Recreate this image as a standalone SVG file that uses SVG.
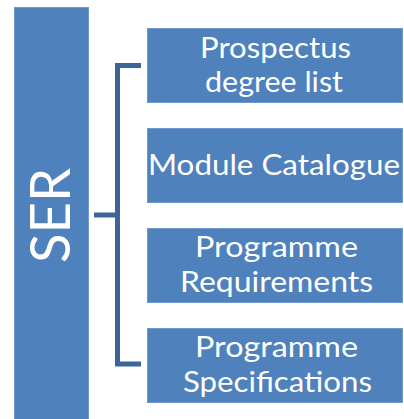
<svg xmlns="http://www.w3.org/2000/svg" width="404" height="419" viewBox="0 0 404 419">
<style>
.box{fill:#4F81BD;stroke:#7098CC;stroke-width:1}
.lbl{fill:#FFFFFF;font-family:Lato,"Open Sans","Liberation Sans",sans-serif;font-size:29px;text-anchor:middle}
.conn{fill:none;stroke:#3D6597;stroke-width:5}
</style>
<rect width="404" height="419" fill="#FFFFFF"/>
<g id="ser">
<rect class="box" x="14.5" y="7.5" width="74" height="412"/>
<text class="lbl" transform="translate(70,215.5) rotate(-90)" x="0" y="0" style="font-size:56px" textLength="95" lengthAdjust="spacingAndGlyphs">SER</text>
</g>
<g id="connectors">
<path class="conn" d="M141,65.5 H117.5 V364 H141"/>
<path class="conn" d="M94,215 H117.5"/>
</g>
<g id="prospectus">
<rect class="box" x="147.5" y="28.5" width="255" height="74"/>
<text class="lbl" x="275.5" y="58" textLength="151" lengthAdjust="spacingAndGlyphs">Prospectus</text>
<text class="lbl" x="274" y="92" textLength="138" lengthAdjust="spacingAndGlyphs">degree list</text>
</g>
<g id="module">
<rect class="box" x="147.5" y="128.5" width="255" height="74"/>
<text class="lbl" x="274" y="175" textLength="252" lengthAdjust="spacingAndGlyphs">Module Catalogue</text>
</g>
<g id="requirements">
<rect class="box" x="147.5" y="228.5" width="255" height="74"/>
<text class="lbl" x="276.5" y="257" textLength="163" lengthAdjust="spacingAndGlyphs">Programme</text>
<text class="lbl" x="276.5" y="292" textLength="193" lengthAdjust="spacingAndGlyphs">Requirements</text>
</g>
<g id="specifications">
<rect class="box" x="147.5" y="328.5" width="255" height="74"/>
<text class="lbl" x="276.5" y="357" textLength="163" lengthAdjust="spacingAndGlyphs">Programme</text>
<text class="lbl" x="277.5" y="392" textLength="189" lengthAdjust="spacingAndGlyphs">Specifications</text>
</g>
</svg>
